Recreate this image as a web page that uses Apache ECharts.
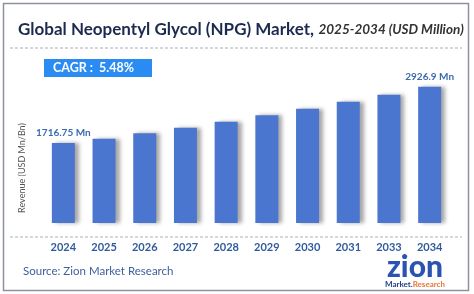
<!doctype html>
<html lang='en'>
<head>
<title>NPG Market</title>
<meta charset='utf-8'>
<style>
html, body { margin: 0; padding: 0; background: #fff; }
#chart { width: 474px; height: 294px; }
</style>
</head>
<body>
<div id="chart"></div>
<script src="https://cdn.jsdelivr.net/npm/echarts@6/dist/echarts.min.js"></script>
<script>
// data
const years = ['2024', '2025', '2026', '2027', '2028', '2029', '2030', '2031', '2033', '2034'];
const revenue = [1716.75, 1810, 1925, 2046, 2175, 2312, 2454, 2605, 2755, 2926.9];
const shownLabels = ['1716.75 Mn', '', '', '', '', '', '', '', '', '2926.9 Mn'];

const FONT = 'Lato';
const barBlue = '#4a76d0';

const chart = echarts.init(document.getElementById('chart'));

chart.setOption({
    backgroundColor: '#fff',
    animation: false,
    textStyle: { fontFamily: FONT },
    title: {
        left: 13,
        top: 16,
        text: '{b|Global Neopentyl Glycol (NPG) Market,} {i|2025-2034 (USD Million)}',
        textStyle: {
            rich: {
                b: { fontFamily: FONT, fontSize: 17, fontWeight: 'bold', color: '#1c2a4f' },
                i: { fontFamily: FONT, fontSize: 13.5, fontStyle: 'italic', color: '#333' }
            }
        }
    },
    grid: { left: 43, right: 24, top: 74, bottom: 59 },
    xAxis: {
        type: 'category',
        data: years,
        axisLine: { show: false },
        axisTick: { show: false },
        axisLabel: { margin: 7, fontSize: 11, fontWeight: 'bold', color: '#2f5b9e', fontFamily: FONT }
    },
    yAxis: {
        type: 'value',
        min: -260,
        max: 3200,
        show: false,
        splitLine: { show: false }
    },
    series: [{
        type: 'bar',
        barWidth: 23,
        data: revenue.map((v, i) => ({
            value: v,
            label: {
                show: shownLabels[i] !== '',
                formatter: shownLabels[i]
            }
        })),
        itemStyle: {
            color: barBlue,
            shadowColor: 'rgba(0,0,0,0.35)',
            shadowBlur: 4,
            shadowOffsetX: 4,
            shadowOffsetY: 0
        },
        label: {
            position: 'top',
            distance: 5,
            fontSize: 10,
            fontWeight: 'bold',
            color: '#3a6cb0',
            fontFamily: FONT
        }
    }],
    graphic: [
        // outer frame
        { type: 'rect', shape: { x: 3.5, y: 3.5, width: 465, height: 287 },
          style: { fill: 'none', stroke: '#8c939c', lineWidth: 1.5 } },
        // dashed rule under title
        { type: 'line', shape: { x1: 10, y1: 48, x2: 462, y2: 48 },
          style: { stroke: '#a8b0ba', lineWidth: 1, lineDash: [3, 2] } },
        // dashed baseline
        { type: 'line', shape: { x1: 10, y1: 237, x2: 462, y2: 237 },
          style: { stroke: '#a8b0ba', lineWidth: 1, lineDash: [3, 2] } },
        // CAGR box
        { type: 'rect', shape: { x: 44, y: 59, width: 108, height: 18 },
          style: { fill: '#2a8cf2' } },
        { type: 'text', x: 53, y: 68,
          style: { text: 'CAGR :  5.48%', fill: '#fff', font: 'bold 12.5px Lato', verticalAlign: 'middle' } },
        // y axis title
        { type: 'text', x: 22, y: 168, rotation: Math.PI / 2,
          style: { text: 'Revenue (USD Mn/Bn)', fill: '#555', font: '9px Lato', align: 'center', verticalAlign: 'middle' } },
        // source
        { type: 'text', x: 23, y: 271,
          style: { text: 'Source: Zion Market Research', fill: '#3d5f9c', font: '11.5px Lato', verticalAlign: 'middle' } },
        // logo
        { type: 'text', x: 415, y: 267,
          style: { text: 'zion', fill: '#2b54b0', font: '900 30px Lato', align: 'center', verticalAlign: 'middle' } },
        { type: 'text', x: 415, y: 284,
          style: {
              text: '{m|Market.}{r|Research}', align: 'center', verticalAlign: 'middle',
              rich: {
                  m: { fill: '#1f3f8a', font: 'bold 8px Lato' },
                  r: { fill: '#e8743b', font: 'bold 8px Lato' }
              }
          } }
    ]
});
</script>
</body>
</html>
